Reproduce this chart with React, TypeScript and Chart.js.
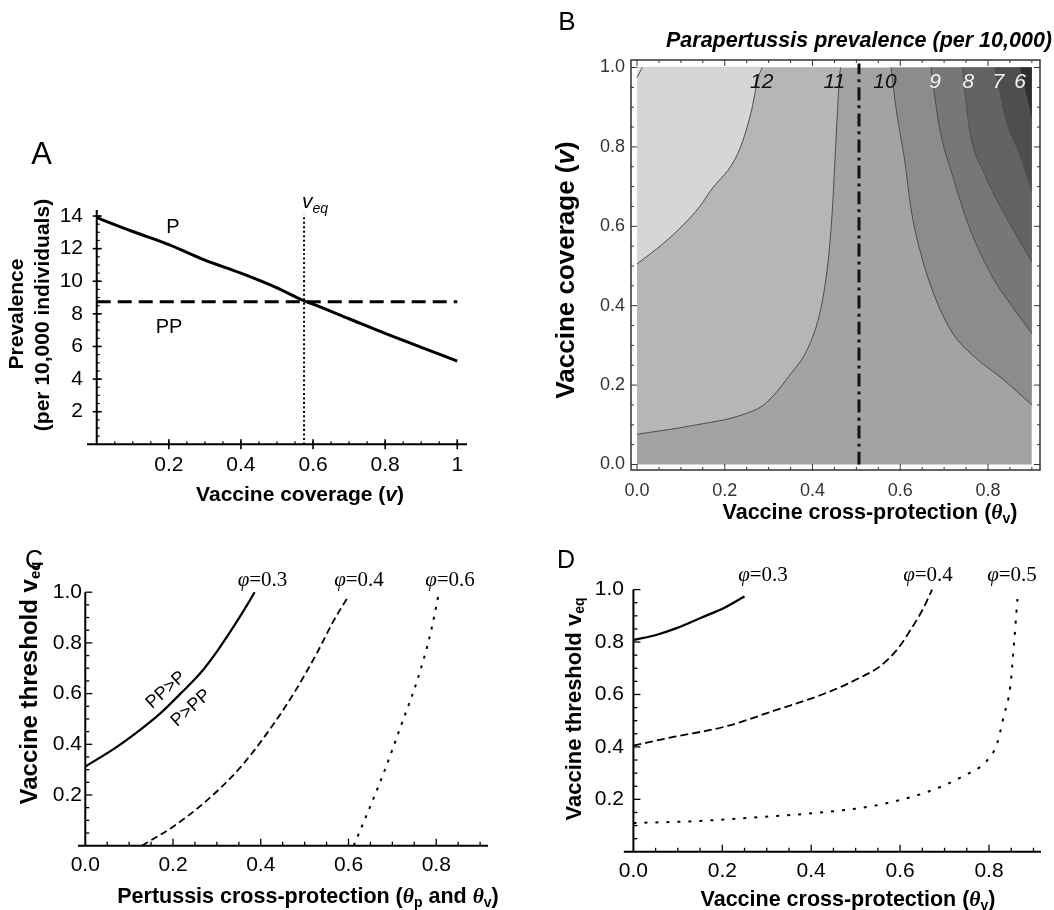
import React, { useEffect, useRef } from "react";
import { Chart, registerables } from "chart.js";

Chart.register(...registerables);

const W = 1054;
const H = 910;

// ---------------- Panel A data ----------------
const A_COVERAGE = [0, 0.1, 0.2, 0.3, 0.4, 0.5, 0.575, 0.6, 0.7, 0.8, 0.9, 1.0];
const A_P_PREVALENCE = [13.9, 13.05, 12.25, 11.3, 10.5, 9.6, 8.8, 8.6, 7.7, 6.8, 5.95, 5.1];
const A_PP_COVERAGE = [0, 1];
const A_PP_PREVALENCE = [8.75, 8.75];
const A_VEQ_COVERAGE = [0.575, 0.575];
const A_VEQ_PREVALENCE = [0, 14.1];
const A_X_TICKS = [0.2, 0.4, 0.6, 0.8, 1];
const A_X_TICK_LABELS = ["0.2", "0.4", "0.6", "0.8", "1"];
const A_Y_TICKS = [2, 4, 6, 8, 10, 12, 14];
const A_Y_TICK_LABELS = ["2", "4", "6", "8", "10", "12", "14"];

// ---------------- Panel B data (contour lines: theta_v vs v) ----------------
const B_C13_THETA = [0, 0.012];
const B_C13_V = [0.975, 1.0];
const B_C12_THETA = [0, 0.06, 0.105, 0.143, 0.168, 0.23, 0.26, 0.276, 0.285];
const B_C12_V = [0.505, 0.557, 0.603, 0.65, 0.69, 0.784, 0.887, 0.973, 1.0];
const B_C11_THETA = [0, 0.121, 0.245, 0.292, 0.346, 0.392, 0.419, 0.435, 0.442, 0.446, 0.454, 0.462, 0.464];
const B_C11_V = [0.076, 0.097, 0.127, 0.153, 0.222, 0.299, 0.393, 0.505, 0.59, 0.655, 0.827, 0.981, 1.0];
const B_C10_THETA = [0.579, 0.591, 0.61, 0.625, 0.651, 0.682, 0.72, 0.765, 0.834, 0.9];
const B_C10_V = [1.0, 0.893, 0.767, 0.641, 0.515, 0.414, 0.33, 0.275, 0.215, 0.15];
const B_C9_THETA = [0.67, 0.689, 0.72, 0.757, 0.81, 0.856, 0.9];
const B_C9_V = [1.0, 0.851, 0.725, 0.599, 0.473, 0.397, 0.33];
const B_C8_THETA = [0.742, 0.757, 0.795, 0.841, 0.9];
const B_C8_V = [1.0, 0.851, 0.725, 0.624, 0.51];
const B_C7_THETA = [0.816, 0.841, 0.871, 0.9];
const B_C7_V = [1.0, 0.868, 0.784, 0.69];
const B_C6_THETA = [0.872, 0.887, 0.9];
const B_C6_V = [1.0, 0.93, 0.87];
const B_DOMAIN_THETA = [0, 0.9];
const B_DOMAIN_V = [0, 0];
const B_THRESHOLD_THETA = [0.506, 0.506];
const B_THRESHOLD_V = [0, 1.01];
const B_LEVEL_LABELS = ["12", "11", "10", "9", "8", "7", "6"];
const B_LEVEL_LABEL_THETA = [0.284, 0.449, 0.564, 0.678, 0.753, 0.822, 0.872];
const B_X_TICKS = [0, 0.2, 0.4, 0.6, 0.8];
const B_X_TICK_LABELS = ["0.0", "0.2", "0.4", "0.6", "0.8"];
const B_Y_TICKS = [0, 0.2, 0.4, 0.6, 0.8, 1.0];
const B_Y_TICK_LABELS = ["0.0", "0.2", "0.4", "0.6", "0.8", "1.0"];

// ---------------- Panel C data ----------------
const C_PHI03_THETA = [0, 0.072, 0.125, 0.171, 0.217, 0.262, 0.3, 0.338, 0.369, 0.386];
const C_PHI03_VEQ = [0.312, 0.39, 0.457, 0.522, 0.6, 0.68, 0.766, 0.864, 0.95, 1.0];
const C_PHI04_THETA = [0.129, 0.2, 0.278, 0.354, 0.414, 0.475, 0.528, 0.567, 0.597];
const C_PHI04_VEQ = [0, 0.075, 0.18, 0.31, 0.443, 0.6, 0.76, 0.89, 0.976];
const C_PHI06_THETA = [0.612, 0.643, 0.68, 0.719, 0.757, 0.787, 0.806];
const C_PHI06_VEQ = [0, 0.128, 0.286, 0.47, 0.654, 0.838, 0.996];
const C_PHI_LABELS = ["=0.3", "=0.4", "=0.6"];

// ---------------- Panel D data ----------------
const D_PHI03_THETA = [0, 0.051, 0.097, 0.151, 0.205, 0.25];
const D_PHI03_VEQ = [0.808, 0.827, 0.853, 0.892, 0.931, 0.974];
const D_PHI04_THETA = [0, 0.09, 0.205, 0.32, 0.434, 0.511, 0.557, 0.595, 0.626, 0.653, 0.672];
const D_PHI04_VEQ = [0.405, 0.438, 0.477, 0.54, 0.606, 0.665, 0.71, 0.775, 0.853, 0.931, 1.0];
const D_PHI05_THETA = [0, 0.128, 0.281, 0.434, 0.549, 0.664, 0.741, 0.795, 0.818, 0.833, 0.848, 0.856, 0.864];
const D_PHI05_VEQ = [0.11, 0.116, 0.132, 0.152, 0.178, 0.23, 0.288, 0.347, 0.412, 0.516, 0.632, 0.788, 0.964];
const D_PHI_LABELS = ["=0.3", "=0.4", "=0.5"];

const CD_X_TICKS = [0, 0.2, 0.4, 0.6, 0.8];
const CD_X_TICK_LABELS = ["0.0", "0.2", "0.4", "0.6", "0.8"];
const CD_Y_TICKS = [0.2, 0.4, 0.6, 0.8, 1.0];
const CD_Y_TICK_LABELS = ["0.2", "0.4", "0.6", "0.8", "1.0"];

// ---------------- helpers ----------------
const SANS = "Liberation Sans";
const SERIF = "Liberation Serif";

function pts(xs: number[], ys: number[]) {
  return xs.map((x, i) => ({ x, y: ys[i] }));
}

type Seg = { t: string; f: string; dy?: number };

function rich(ctx: CanvasRenderingContext2D, segs: Seg[], x: number, y: number, align: string, rot = 0, color = "#000") {
  ctx.save();
  ctx.translate(x, y);
  if (rot) ctx.rotate(rot);
  ctx.fillStyle = color;
  ctx.textBaseline = "middle";
  ctx.textAlign = "left";
  const widths = segs.map((s) => {
    ctx.font = s.f;
    return ctx.measureText(s.t).width;
  });
  const total = widths.reduce((a, b) => a + b, 0);
  let cx = align === "left" ? 0 : align === "center" ? -total / 2 : -total;
  segs.forEach((s, i) => {
    ctx.font = s.f;
    ctx.fillText(s.t, cx, s.dy || 0);
    cx += widths[i];
  });
  ctx.restore();
}

function line(ctx: CanvasRenderingContext2D, x1: number, y1: number, x2: number, y2: number) {
  ctx.beginPath();
  ctx.moveTo(x1, y1);
  ctx.lineTo(x2, y2);
  ctx.stroke();
}

type Area = { l: number; t: number; r: number; b: number };

function baseOptions(area: Area, xr: number[], yr: number[]): any {
  return {
    responsive: false,
    animation: false,
    events: [],
    layout: { padding: { left: area.l, top: area.t, right: W - area.r, bottom: H - area.b } },
    scales: {
      x: { type: "linear", min: xr[0], max: xr[1], display: false },
      y: { type: "linear", min: yr[0], max: yr[1], display: false },
    },
    plugins: { legend: { display: false }, tooltip: { enabled: false } },
    elements: { point: { radius: 0 }, line: { tension: 0 } },
  };
}

// ---------------- Panel A ----------------
function drawA(chart: any) {
  const ctx: CanvasRenderingContext2D = chart.ctx;
  const xs = chart.scales.x;
  const ys = chart.scales.y;
  const x0 = xs.getPixelForValue(0);
  const y0 = ys.getPixelForValue(0);
  ctx.save();
  ctx.strokeStyle = "#000";
  ctx.lineWidth = 2;
  line(ctx, xs.left, y0, xs.right, y0);
  line(ctx, x0, y0, x0, ys.top);
  ctx.lineWidth = 1.2;
  for (let k = 1; k <= 20; k++) {
    const px = xs.getPixelForValue(k * 0.05);
    line(ctx, px, y0 - 3, px, y0);
  }
  for (let k = 1; k <= 28; k++) {
    const py = ys.getPixelForValue(k * 0.5);
    line(ctx, x0, py, x0 + 3, py);
  }
  ctx.lineWidth = 1.6;
  A_X_TICKS.forEach((v) => {
    const px = xs.getPixelForValue(v);
    line(ctx, px, y0 - 5, px, y0 + 5);
  });
  A_Y_TICKS.forEach((v) => {
    const py = ys.getPixelForValue(v);
    line(ctx, x0 - 4, py, x0 + 5, py);
  });
  const tf = `21px ${SANS}`;
  A_X_TICKS.forEach((v, i) => rich(ctx, [{ t: A_X_TICK_LABELS[i], f: tf }], xs.getPixelForValue(v), 465, "center"));
  A_Y_TICKS.forEach((v, i) => rich(ctx, [{ t: A_Y_TICK_LABELS[i], f: tf }], 83, ys.getPixelForValue(v), "right"));
  const bf = `bold 21px ${SANS}`;
  rich(ctx, [{ t: "Vaccine coverage (", f: bf }, { t: "v", f: `italic bold 21px ${SANS}` }, { t: ")", f: bf }], 300, 495, "center");
  rich(ctx, [{ t: "Prevalence", f: bf }], 17, 314, "center", -Math.PI / 2);
  rich(ctx, [{ t: "(per 10,000 individuals)", f: bf }], 43, 315, "center", -Math.PI / 2);
  rich(ctx, [{ t: "A", f: `31px ${SANS}` }], 41.5, 155, "center");
  rich(ctx, [{ t: "P", f: `20px ${SANS}` }], 173, 227, "center");
  rich(ctx, [{ t: "PP", f: `20px ${SANS}` }], 169, 327, "center");
  rich(ctx, [{ t: "v", f: `italic 21px ${SANS}` }, { t: "eq", f: `italic 14px ${SANS}`, dy: 7 }], 302, 202, "left");
  ctx.restore();
}

// ---------------- Panel B ----------------
function drawB(chart: any) {
  const ctx: CanvasRenderingContext2D = chart.ctx;
  const xs = chart.scales.x;
  const ys = chart.scales.y;
  ctx.save();
  ctx.strokeStyle = "#333";
  ctx.lineWidth = 1.5;
  ctx.strokeRect(xs.left, ys.top, xs.right - xs.left, ys.bottom - ys.top);
  ctx.lineWidth = 1;
  for (let k = 0; k <= 18; k++) {
    const v = k * 0.05;
    const px = xs.getPixelForValue(v);
    const len = k % 4 === 0 ? 6 : 3;
    line(ctx, px, ys.bottom, px, ys.bottom - len);
    line(ctx, px, ys.top, px, ys.top + len);
  }
  for (let k = 0; k <= 20; k++) {
    const v = k * 0.05;
    const py = ys.getPixelForValue(v);
    const len = k % 4 === 0 ? 6 : 3;
    line(ctx, xs.left, py, xs.left + len, py);
    line(ctx, xs.right, py, xs.right - len, py);
  }
  const tf = `18px ${SANS}`;
  B_X_TICKS.forEach((v, i) => rich(ctx, [{ t: B_X_TICK_LABELS[i], f: tf }], xs.getPixelForValue(v), 491, "center", 0, "#333"));
  B_Y_TICKS.forEach((v, i) => rich(ctx, [{ t: B_Y_TICK_LABELS[i], f: tf }], 625, ys.getPixelForValue(v), "right", 0, "#333"));
  // contour level labels
  const lf = `italic 21px ${SANS}`;
  const lblY = 81.7;
  const lblX = [761.7, 834.3, 885, 935, 968.3, 998.3, 1020];
  B_LEVEL_LABELS.forEach((t, i) => rich(ctx, [{ t, f: lf }], lblX[i], lblY, "center", 0, i >= 3 ? "#f2f2f2" : "#111"));
  const bf = `bold 21.5px ${SANS}`;
  rich(ctx, [
    { t: "Vaccine cross-protection (", f: bf },
    { t: "θ", f: `italic bold 21.5px ${SERIF}` },
    { t: "v", f: `bold 14px ${SANS}`, dy: 6 },
    { t: ")", f: bf },
  ], 870, 513, "center");
  const yf = `bold 26px ${SANS}`;
  rich(ctx, [{ t: "Vaccine coverage (", f: yf }, { t: "v", f: `italic bold 26px ${SANS}` }, { t: ")", f: yf }], 567, 270, "center", -Math.PI / 2);
  rich(ctx, [{ t: "Parapertussis prevalence (per 10,000)", f: `italic bold 21.5px ${SANS}` }], 666, 41, "left");
  rich(ctx, [{ t: "B", f: `26px ${SANS}` }], 567, 23, "center");
  ctx.restore();
}

// ---------------- Panels C & D ----------------
function drawLAxes(chart: any, yLabelRight: number, xLabelY: number) {
  const ctx: CanvasRenderingContext2D = chart.ctx;
  const xs = chart.scales.x;
  const ys = chart.scales.y;
  const x0 = xs.getPixelForValue(0);
  const y0 = ys.getPixelForValue(0);
  ctx.save();
  ctx.strokeStyle = "#000";
  ctx.lineWidth = 2;
  line(ctx, xs.left, y0, xs.right, y0);
  line(ctx, x0, y0, x0, ys.top);
  ctx.lineWidth = 1.3;
  for (let k = 1; k <= 18; k++) {
    const px = xs.getPixelForValue(k * 0.05);
    const len = k % 4 === 0 ? 7 : 4;
    line(ctx, px, y0, px, y0 - len);
  }
  for (let k = 1; k <= 20; k++) {
    const py = ys.getPixelForValue(k * 0.05);
    const len = k % 4 === 0 ? 7 : 4;
    line(ctx, x0, py, x0 + len, py);
  }
  const tf = `21px ${SANS}`;
  CD_X_TICKS.forEach((v, i) => rich(ctx, [{ t: CD_X_TICK_LABELS[i], f: tf }], xs.getPixelForValue(v), xLabelY, "center"));
  CD_Y_TICKS.forEach((v, i) => rich(ctx, [{ t: CD_Y_TICK_LABELS[i], f: tf }], yLabelRight, ys.getPixelForValue(v), "right"));
  ctx.restore();
}

function phiLabel(ctx: CanvasRenderingContext2D, text: string, x: number, y: number) {
  rich(ctx, [{ t: "φ", f: `italic 21px ${SERIF}` }, { t: text, f: `21px ${SERIF}` }], x, y, "center");
}

function vThresholdTitle(ctx: CanvasRenderingContext2D, x: number, y: number, size: number) {
  const f = `bold ${size}px ${SANS}`;
  rich(ctx, [{ t: "Vaccine threshold ", f }, { t: "v", f }, { t: "eq", f: `bold ${Math.round(size * 0.62)}px ${SANS}`, dy: 6 }], x, y, "center", -Math.PI / 2);
}

function drawC(chart: any) {
  const ctx: CanvasRenderingContext2D = chart.ctx;
  drawLAxes(chart, 82, 865);
  ctx.save();
  const bf = `bold 21.5px ${SANS}`;
  const th = `italic bold 21.5px ${SERIF}`;
  const sub = `bold 14px ${SANS}`;
  rich(ctx, [
    { t: "Pertussis cross-protection (", f: bf },
    { t: "θ", f: th }, { t: "p", f: sub, dy: 6 },
    { t: " and ", f: bf },
    { t: "θ", f: th }, { t: "v", f: sub, dy: 6 },
    { t: ")", f: bf },
  ], 308, 897, "center");
  vThresholdTitle(ctx, 30, 683, 24);
  phiLabel(ctx, C_PHI_LABELS[0], 262.5, 580);
  phiLabel(ctx, C_PHI_LABELS[1], 359, 580);
  phiLabel(ctx, C_PHI_LABELS[2], 450, 580);
  const rot = -42 * Math.PI / 180;
  rich(ctx, [{ t: "PP>P", f: `18px ${SANS}` }], 166, 690, "center", rot);
  rich(ctx, [{ t: "P>PP", f: `18px ${SANS}` }], 191, 708, "center", rot);
  rich(ctx, [{ t: "C", f: `25px ${SANS}` }], 34, 561, "center");
  ctx.restore();
}

function drawD(chart: any) {
  const ctx: CanvasRenderingContext2D = chart.ctx;
  drawLAxes(chart, 624, 871);
  ctx.save();
  const bf = `bold 21.5px ${SANS}`;
  rich(ctx, [
    { t: "Vaccine cross-protection (", f: bf },
    { t: "θ", f: `italic bold 21.5px ${SERIF}` },
    { t: "v", f: `bold 14px ${SANS}`, dy: 6 },
    { t: ")", f: bf },
  ], 848, 900, "center");
  vThresholdTitle(ctx, 574.5, 709, 22);
  phiLabel(ctx, D_PHI_LABELS[0], 763, 575);
  phiLabel(ctx, D_PHI_LABELS[1], 928, 575);
  phiLabel(ctx, D_PHI_LABELS[2], 1012, 575);
  rich(ctx, [{ t: "D", f: `25px ${SANS}` }], 566, 561, "center");
  ctx.restore();
}

// ---------------- dataset helpers ----------------
function curve(xs: number[], ys: number[], dash: number[], width: number, extra: any = {}) {
  return {
    data: pts(xs, ys),
    borderColor: "#000",
    borderWidth: width,
    borderDash: dash,
    fill: false,
    clip: false,
    cubicInterpolationMode: "monotone",
    ...extra,
  };
}

function contour(xs: number[], ys: number[], color: string, order: number) {
  return {
    data: pts(xs, ys),
    borderColor: "#4d4d4d",
    borderWidth: 1,
    backgroundColor: color,
    fill: { value: 1 },
    cubicInterpolationMode: "monotone",
    order,
  };
}

export default function App() {
  const refA = useRef<HTMLCanvasElement>(null);
  const refB = useRef<HTMLCanvasElement>(null);
  const refC = useRef<HTMLCanvasElement>(null);
  const refD = useRef<HTMLCanvasElement>(null);

  useEffect(() => {
    document.body.style.margin = "0";
    const charts: Chart[] = [];

    // Panel A
    const areaA = { l: 87, t: 210, r: 467, b: 444.3 };
    charts.push(new Chart(refA.current as HTMLCanvasElement, {
      type: "line",
      data: {
        datasets: [
          curve(A_COVERAGE, A_P_PREVALENCE, [], 3),
          curve(A_PP_COVERAGE, A_PP_PREVALENCE, [14, 7], 3),
          curve(A_VEQ_COVERAGE, A_VEQ_PREVALENCE, [2, 2.5], 2),
        ] as any,
      },
      options: baseOptions(areaA, [-0.027, 1.027], [0, 14.37]),
      plugins: [{ id: "decoA", afterDraw: drawA }],
    }));

    // Panel B
    const areaB = { l: 631, t: 60, r: 1040, b: 470 };
    charts.push(new Chart(refB.current as HTMLCanvasElement, {
      type: "line",
      data: {
        datasets: [
          { ...curve(B_THRESHOLD_THETA, B_THRESHOLD_V, [13, 5, 3, 5], 3, { borderColor: "#111" }), order: 0 },
          contour(B_C6_THETA, B_C6_V, "#2e2e2e", 1),
          contour(B_C7_THETA, B_C7_V, "#4e4e4e", 2),
          contour(B_C8_THETA, B_C8_V, "#636363", 3),
          contour(B_C9_THETA, B_C9_V, "#777777", 4),
          contour(B_C10_THETA, B_C10_V, "#8c8c8c", 5),
          contour(B_C13_THETA, B_C13_V, "#e2e2e2", 6),
          contour(B_C12_THETA, B_C12_V, "#d6d6d6", 7),
          contour(B_C11_THETA, B_C11_V, "#b6b6b6", 8),
          { data: pts(B_DOMAIN_THETA, B_DOMAIN_V), borderWidth: 0, borderColor: "rgba(0,0,0,0)", backgroundColor: "#a3a3a3", fill: { value: 1 }, order: 9 },
        ] as any,
      },
      options: baseOptions(areaB, [-0.0137, 0.9186], [-0.0139, 1.0189]),
      plugins: [{ id: "decoB", afterDraw: drawB }],
    }));

    // Panel C
    const areaC = { l: 78, t: 592.2, r: 488, b: 845.7 };
    charts.push(new Chart(refC.current as HTMLCanvasElement, {
      type: "line",
      data: {
        datasets: [
          curve(C_PHI03_THETA, C_PHI03_VEQ, [], 2.2),
          curve(C_PHI04_THETA, C_PHI04_VEQ, [7, 4], 1.8),
          curve(C_PHI06_THETA, C_PHI06_VEQ, [3, 7], 2),
        ] as any,
      },
      options: baseOptions(areaC, [-0.0166, 0.918], [0, 1]),
      plugins: [{ id: "decoC", afterDraw: drawC }],
    }));

    // Panel D
    const areaD = { l: 623.8, t: 589.6, r: 1041, b: 851.8 };
    charts.push(new Chart(refD.current as HTMLCanvasElement, {
      type: "line",
      data: {
        datasets: [
          curve(D_PHI03_THETA, D_PHI03_VEQ, [], 2.2),
          curve(D_PHI04_THETA, D_PHI04_VEQ, [8, 4], 1.8),
          curve(D_PHI05_THETA, D_PHI05_VEQ, [3, 8], 2),
        ] as any,
      },
      options: baseOptions(areaD, [-0.0216, 0.917], [0, 1]),
      plugins: [{ id: "decoD", afterDraw: drawD }],
    }));

    return () => charts.forEach((c) => c.destroy());
  }, []);

  const cs: React.CSSProperties = { position: "absolute", left: 0, top: 0, width: W, height: H };
  return (
    <div style={{ position: "relative", width: W, height: H, background: "#fff", overflow: "hidden" }}>
      <canvas ref={refA} width={W} height={H} style={cs} />
      <canvas ref={refB} width={W} height={H} style={cs} />
      <canvas ref={refC} width={W} height={H} style={cs} />
      <canvas ref={refD} width={W} height={H} style={cs} />
    </div>
  );
}
